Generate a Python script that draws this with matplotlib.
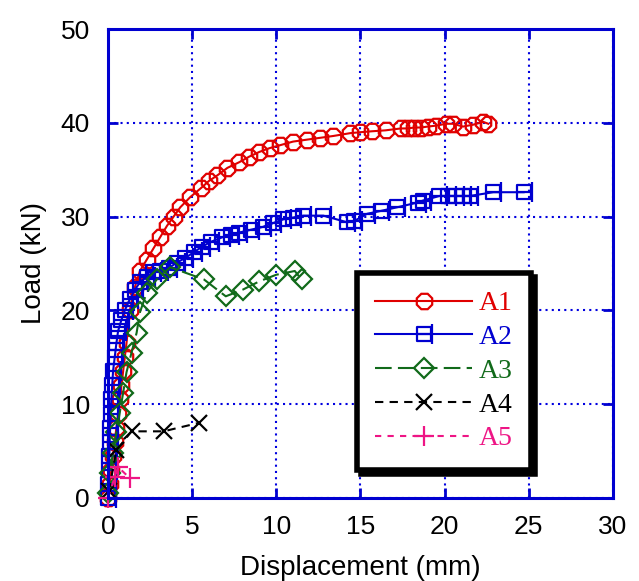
import numpy as np
import matplotlib
matplotlib.use("Agg")
import matplotlib.pyplot as plt
from matplotlib.path import Path

# load-displacement curves
a1_x = [0, 0.1, 0.2, 0.3, 0.4, 0.5, 0.6, 0.7, 0.8, 0.9, 1.0, 1.1, 1.3, 1.6, 1.9,
        2.3, 2.7, 3.1, 3.5, 3.9, 4.3, 4.9, 5.5, 6.0, 6.5, 7.1, 7.8, 8.4, 9.0,
        9.6, 10.2, 11.0, 11.8, 12.6, 13.4, 14.4, 15.0, 15.7, 16.5, 17.4, 17.8,
        18.2, 18.6, 19.0, 19.5, 20.1, 20.5, 21.1, 21.7, 22.3, 22.6]
a1_y = [0, 1.5, 3, 4.5, 6, 7.5, 9, 10.5, 12, 13.5, 15, 16.5, 20, 22.5, 24.2,
        25.4, 26.6, 27.8, 29, 30, 31, 32.1, 33, 33.8, 34.4, 35.2, 35.8, 36.4,
        36.9, 37.3, 37.6, 38, 38.2, 38.4, 38.6, 38.9, 39, 39.1, 39.2, 39.4,
        39.4, 39.5, 39.5, 39.6, 39.7, 39.9, 39.9, 39.6, 39.8, 40.1, 39.9]

a2_x = [0, 0.02, 0.05, 0.08, 0.1, 0.13, 0.16, 0.2, 0.25, 0.3, 0.4, 0.5, 0.6,
        0.8, 1.0, 1.3, 1.6, 1.9, 2.3, 2.7, 3.1, 3.6, 4.1, 4.6, 5.1, 5.6, 6.1,
        6.8, 7.3, 7.8, 8.5, 9.2, 9.8, 10.4, 11.0, 11.6, 12.8, 14.2, 14.6, 15.4,
        16.2, 17.2, 18.4, 18.7, 19.7, 20.2, 20.7, 21.1, 21.5, 22.9, 24.7]
a2_y = [0, 1.5, 3, 4.5, 6, 7.5, 9, 10.5, 12, 13.5, 15, 16.5, 17.8, 19, 20,
        21.2, 22.2, 23, 23.6, 24.1, 24.2, 24.5, 25.1, 25.6, 26.2, 26.8, 27.3,
        27.8, 28, 28.3, 28.6, 28.9, 29.3, 29.7, 29.9, 30.1, 30.1, 29.4, 29.5,
        30.3, 30.6, 31, 31.5, 31.7, 32.2, 32.2, 32.2, 32.2, 32.2, 32.6, 32.6]

a3_x = [0, 0.1, 0.3, 0.5, 0.7, 0.9, 1.1, 1.4, 1.7, 1.9, 2.3, 2.9, 3.7, 5.7,
        7.0, 8.0, 9.0, 10.0, 11.1, 11.5]
a3_y = [0.5, 2.7, 4.8, 7, 9.1, 11.2, 13.4, 15.5, 17.6, 19.8, 21.9, 23.3, 24.6,
        23.3, 21.5, 22.2, 23.1, 23.8, 24.2, 23.3]

a4_x = [0.05, 0.5, 1.4, 3.3, 5.4]
a4_y = [0.7, 5.1, 7.1, 7.1, 8.0]

a5_x = [0, 0.4, 0.6, 1.3]
a5_y = [0, 2.2, 3.3, 2.1]

labels = ["A1", "A2", "A3", "A4", "A5"]
colors = ["#e00000", "#0000d0", "#116a1a", "#000000", "#ee1585"]

# square with a bar on the right, like the original plotting package
sq_marker = Path(
    [(-0.5, -0.5), (0.5, -0.5), (0.5, 0.5), (-0.5, 0.5), (-0.5, -0.5),
     (-0.5, 0), (0.6, 0), (0.6, -0.8), (0.6, 0.8)],
    [Path.MOVETO, Path.LINETO, Path.LINETO, Path.LINETO, Path.CLOSEPOLY,
     Path.MOVETO, Path.LINETO, Path.MOVETO, Path.LINETO])

fig = plt.figure(figsize=(6.39, 5.81), dpi=100)
ax = fig.add_axes([0.169, 0.143, 0.790, 0.807])

common = dict(mfc="none", clip_on=False, lw=1.5, mew=1.6)
ax.plot(a1_x, a1_y, color=colors[0], marker=(8, 0, 22.5), ms=12, ls="-",
        label=labels[0], **common)
ax.plot(a2_x, a2_y, color=colors[1], marker=sq_marker, ms=15, ls="-",
        label=labels[1], **common)
ax.plot(a3_x, a3_y, color=colors[2], marker="D", ms=10, ls=(0, (8, 3)),
        label=labels[2], **common)
ax.plot(a4_x, a4_y, color=colors[3], marker="x", ms=12, ls=(0, (4, 3)),
        label=labels[3], **common)
ax.plot(a5_x, a5_y, color=colors[4], marker="+", ms=15, ls=(0, (3, 3)),
        label=labels[4], **common)

ax.set_xlim(0, 30)
ax.set_ylim(0, 50)
ax.set_xticks(np.arange(0, 31, 5))
ax.set_yticks(np.arange(0, 51, 10))
ax.grid(True, color="#0000e0", ls=(0, (1, 2)), lw=1.5)
for s in ax.spines.values():
    s.set_color("#0000d0")
    s.set_linewidth(2.2)
ax.tick_params(direction="in", length=7, width=2, color="#0000d0",
               top=True, right=True, labelsize=19,
               labelfontfamily="Liberation Sans")
ax.tick_params(axis="x", pad=12)
ax.tick_params(axis="y", pad=13)

ax.set_xlabel("Displacement (mm)", fontsize=20, family="Liberation Sans",
              labelpad=12)
ax.set_ylabel("Load (kN)", fontsize=20, family="Liberation Sans", labelpad=10)

leg = ax.legend(loc="upper left", bbox_to_anchor=(0.493, 0.48),
                borderaxespad=0,
                prop={"family": "Liberation Serif", "size": 20},
                handlelength=3.5, labelspacing=0.3, borderpad=0.65,
                handletextpad=0.25, fancybox=False, framealpha=1,
                shadow={"color": "black", "alpha": 1, "ox": 3, "oy": -3})
leg.get_frame().set_edgecolor("black")
leg.get_frame().set_linewidth(4)
for t, c in zip(leg.get_texts(), colors):
    t.set_color(c)

fig.savefig("out.png", dpi=100)
